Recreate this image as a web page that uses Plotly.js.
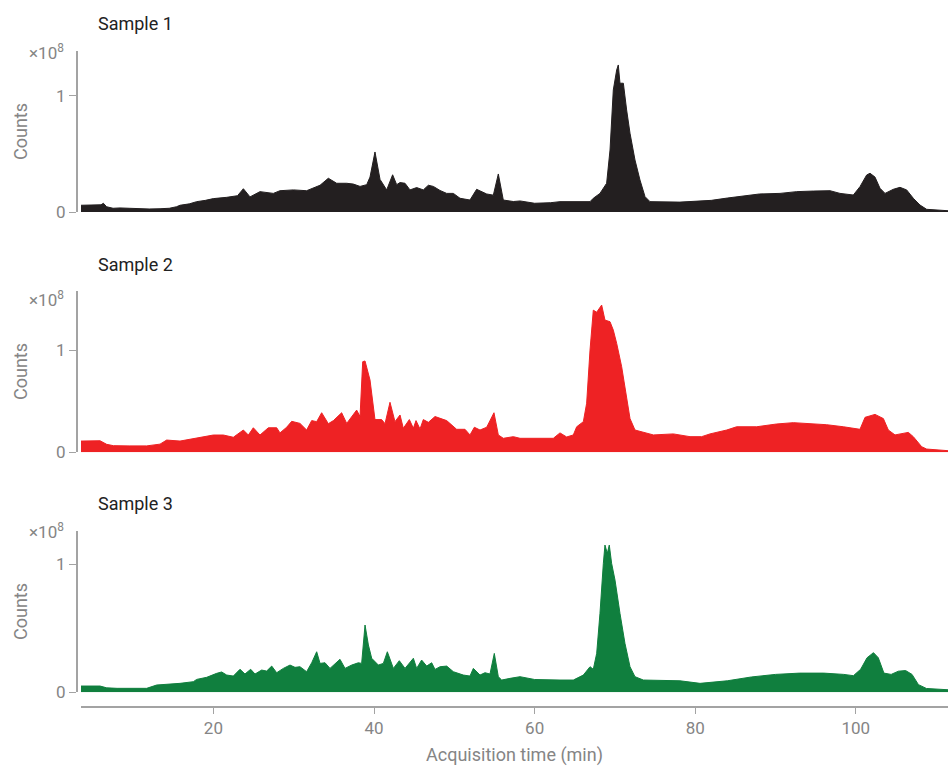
<!DOCTYPE html>
<html>
<head>
<meta charset="utf-8">
<script src="https://cdn.plot.ly/plotly-3.0.1.min.js"></script>
<style>html,body{margin:0;padding:0;background:#fff;}#chart{width:948px;height:766px;}</style>
</head>
<body>
<div id="chart"></div>
<script>
// Acquisition time (min) and counts (x10^8) for each sample
var sampleNames = ["Sample 1", "Sample 2", "Sample 3"];

var time1 = [3.51,5.0,6.0,6.3,6.7,7.5,8.37,9.5,10.9,12.0,13.35,14.5,15.4,15.84,17.0,17.92,19.0,19.99,21.65,23.0,23.73,24.56,25.8,27.46,28.29,29.96,31.61,33.28,34.31,35.35,36.6,37.43,38.26,39.09,39.5,40.12,40.75,41.58,42.32,42.82,43.24,43.86,44.48,45.31,46.14,46.77,47.39,48.22,49.05,49.88,50.71,51.95,52.78,54.03,54.86,55.48,56.1,57.35,58.2,60.0,62.0,63.16,66.9,67.31,68.14,68.97,69.39,69.8,70.22,70.42,70.63,71.05,71.46,71.88,72.5,73.12,73.75,74.37,78.1,80.0,82.0,84.0,86.0,88.0,90.56,92.64,94.71,96.79,98.03,99.69,100.52,101.35,101.77,102.39,103.01,103.64,104.67,105.5,106.33,107.16,107.99,108.82,111.48];
var counts1 = [0.058,0.058,0.062,0.075,0.045,0.032,0.035,0.032,0.028,0.026,0.028,0.032,0.045,0.058,0.07,0.089,0.1,0.115,0.126,0.14,0.20,0.13,0.175,0.16,0.183,0.19,0.183,0.23,0.29,0.247,0.247,0.24,0.22,0.235,0.30,0.516,0.28,0.19,0.32,0.235,0.253,0.247,0.19,0.21,0.19,0.23,0.22,0.185,0.16,0.16,0.118,0.103,0.195,0.155,0.145,0.327,0.103,0.09,0.095,0.075,0.08,0.089,0.089,0.118,0.16,0.247,0.533,1.049,1.221,1.264,1.107,1.107,0.877,0.677,0.447,0.275,0.132,0.089,0.085,0.09,0.1,0.12,0.14,0.155,0.16,0.175,0.18,0.183,0.16,0.146,0.218,0.318,0.333,0.30,0.204,0.16,0.195,0.212,0.19,0.118,0.06,0.023,0.011];

var time2 = [3.51,5.88,6.71,7.54,9.5,11.69,13.35,14.18,15.84,17.09,18.74,19.99,21.24,22.48,23.73,24.35,24.97,25.8,26.84,27.88,28.29,29.12,29.75,30.78,31.61,32.24,32.86,33.48,34.31,34.94,35.97,36.6,37.84,38.26,38.59,38.88,39.5,40.12,40.95,41.37,41.99,42.61,43.24,43.65,44.4,44.9,45.23,45.73,46.14,46.77,47.6,48.43,49.05,50.29,51.33,51.95,52.5,53.2,54.03,54.94,55.48,56.1,57.35,58.18,60.0,62.33,63.16,63.99,64.82,65.24,66.07,66.48,66.9,67.31,67.73,68.35,68.76,69.39,69.8,70.22,70.84,71.46,71.88,72.5,73.33,74.79,77.28,79.35,80.8,81.84,83.92,85.16,87.65,90.14,92.22,94.3,96.37,98.45,100.52,101.15,102.39,103.43,104.05,104.88,106.54,107.16,108.2,108.82,111.48];
var counts2 = [0.11,0.113,0.078,0.065,0.063,0.063,0.08,0.12,0.11,0.127,0.147,0.169,0.169,0.147,0.218,0.169,0.24,0.169,0.24,0.24,0.19,0.245,0.303,0.283,0.218,0.31,0.30,0.387,0.28,0.31,0.387,0.283,0.413,0.35,0.886,0.893,0.707,0.32,0.32,0.28,0.489,0.30,0.365,0.235,0.32,0.235,0.31,0.228,0.32,0.293,0.35,0.33,0.31,0.225,0.225,0.17,0.245,0.218,0.245,0.387,0.17,0.137,0.153,0.137,0.14,0.137,0.19,0.15,0.17,0.25,0.30,0.48,1.0,1.39,1.37,1.44,1.293,1.277,1.195,1.065,0.837,0.511,0.33,0.218,0.2,0.17,0.18,0.153,0.153,0.18,0.218,0.25,0.25,0.277,0.29,0.283,0.27,0.25,0.225,0.342,0.371,0.33,0.218,0.17,0.195,0.153,0.055,0.032,0.016];

var time3 = [3.51,5.88,6.71,8.0,11.69,12.93,15.84,17.5,17.92,19.16,20.4,21.03,21.65,22.48,23.31,23.93,24.64,25.18,26.01,26.63,27.26,27.88,28.71,29.54,30.16,30.78,31.61,32.24,32.86,33.28,33.9,34.52,35.76,36.39,37.22,38.05,38.46,38.88,39.3,39.71,40.54,41.16,41.66,42.41,43.15,43.86,44.9,45.31,45.93,46.56,47.18,47.6,48.22,49.05,49.88,51.12,51.95,52.37,53.2,53.82,54.44,54.98,55.48,55.9,56.94,58.18,60.0,62.0,63.16,64.82,66.07,66.9,67.31,67.73,68.14,68.56,68.76,69.05,69.3,69.59,70.01,70.63,71.25,71.88,72.5,73.54,78.1,80.6,84.0,87.0,90.0,93.0,96.0,98.5,99.7,100.6,101.4,102.2,102.8,103.5,104.4,105.3,106.2,107.0,107.8,108.8,111.48];
var counts3 = [0.049,0.049,0.035,0.031,0.031,0.057,0.07,0.083,0.101,0.117,0.148,0.159,0.135,0.127,0.18,0.143,0.18,0.143,0.174,0.166,0.205,0.153,0.187,0.213,0.195,0.2,0.161,0.231,0.317,0.226,0.231,0.187,0.258,0.187,0.213,0.231,0.226,0.526,0.37,0.266,0.213,0.226,0.317,0.187,0.247,0.187,0.266,0.187,0.252,0.205,0.231,0.179,0.2,0.205,0.161,0.135,0.127,0.187,0.135,0.153,0.143,0.304,0.122,0.096,0.109,0.122,0.1,0.095,0.096,0.096,0.135,0.2,0.18,0.305,0.617,1.008,1.151,1.086,1.151,1.008,0.877,0.617,0.383,0.2,0.122,0.096,0.09,0.07,0.09,0.12,0.14,0.15,0.15,0.14,0.13,0.18,0.27,0.31,0.27,0.15,0.14,0.165,0.17,0.14,0.06,0.03,0.02];

var xTicks = [20, 40, 60, 80, 100];
var yTicks = [0, 1];
var yTickText = ["0", "1"];
var colors = ["#231f20", "#ee2224", "#107f3e"];

var times = [time1, time2, time3];
var counts = [counts1, counts2, counts3];
var yRefs = ["y", "y2", "y3"];

var traces = [];
for (var i = 0; i < 3; i++) {
  traces.push({
    type: "scatter", mode: "lines",
    x: times[i], y: counts[i],
    xaxis: "x", yaxis: yRefs[i],
    fill: "tozeroy",
    fillcolor: colors[i],
    line: {color: colors[i], width: 1},
    hoverinfo: "skip", showlegend: false, name: sampleNames[i]
  });
}

var gray = "#858585";
var axisLine = "#a3a3a3";
var fontFam = "Roboto, 'Open Sans', sans-serif";

function yAxis(domain, top) {
  return {
    domain: domain, range: [0, top], anchor: "free", position: 0,
    showline: true, linecolor: axisLine, linewidth: 1.5,
    ticks: "outside", ticklen: 7, tickcolor: axisLine, tickwidth: 1,
    tickmode: "array", tickvals: yTicks, ticktext: yTickText,
    tickfont: {family: fontFam, size: 17, color: gray},
    showgrid: false, zeroline: false,
    title: {text: "Counts", font: {family: fontFam, size: 18, color: gray}, standoff: 22}
  };
}

var domains = [[0.7542, 1], [0.3873, 0.634], [0.0209, 0.2676]];
var tops = [1.384, 1.58, 1.263];
var titleShift = [28, 26, 27];
var expShift = [-1, -8, 0];

var annotations = [];
for (var k = 0; k < 3; k++) {
  var dref = (k === 0 ? "y" : "y" + (k + 1)) + " domain";
  annotations.push({
    text: sampleNames[k], xref: "paper", yref: dref, x: 0.0235, y: 1,
    xanchor: "left", yanchor: "middle", yshift: titleShift[k], showarrow: false,
    font: {family: fontFam, size: 18, color: "#222222"}
  });
  annotations.push({
    text: "×10<sup>8</sup>", xref: "paper", yref: dref, x: -0.0115, y: 1,
    xanchor: "right", yanchor: "middle", yshift: expShift[k], showarrow: false,
    font: {family: fontFam, size: 17, color: gray}
  });
}

var layout = {
  width: 948, height: 766,
  margin: {l: 76, r: 0, t: 51, b: 60, pad: 0},
  paper_bgcolor: "#ffffff", plot_bgcolor: "rgba(0,0,0,0)",
  showlegend: false, hovermode: false,
  font: {family: fontFam, color: gray},
  xaxis: {
    domain: [0.005734, 1], range: [3.51, 111.48], anchor: "free", position: 0,
    showline: true, linecolor: axisLine, linewidth: 1.5,
    ticks: "outside", ticklen: 6, tickcolor: axisLine, tickwidth: 1,
    tickmode: "array", tickvals: xTicks,
    tickfont: {family: fontFam, size: 17, color: gray},
    showgrid: false, zeroline: false,
    title: {text: "Acquisition time (min)", font: {family: fontFam, size: 18, color: gray}, standoff: 15}
  },
  yaxis: yAxis(domains[0], tops[0]),
  yaxis2: yAxis(domains[1], tops[1]),
  yaxis3: yAxis(domains[2], tops[2]),
  annotations: annotations
};

Plotly.newPlot("chart", traces, layout, {displayModeBar: false, staticPlot: true});
</script>
</body>
</html>
